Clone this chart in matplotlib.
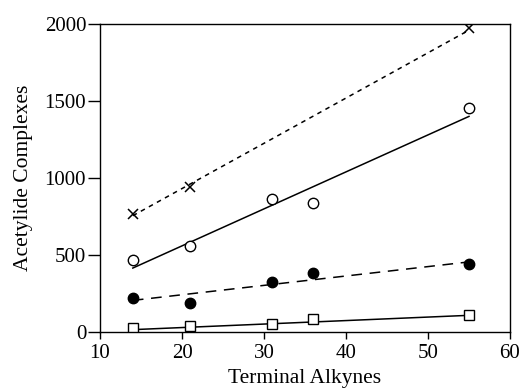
import matplotlib
matplotlib.use("Agg")
import matplotlib.pyplot as plt

x = [14, 21, 31, 36, 55]
cross_x = [14, 21, 55]
cross_y = [766, 941, 1974]
open_y = [468, 558, 864, 838, 1455]
filled_y = [223, 188, 325, 383, 441]
square_y = [26, 39, 52, 84, 110]

fit_x = [14, 55]
cross_fit = [755, 1960]
open_fit = [415, 1400]
filled_fit = [205, 455]
square_fit = [15, 108]

xticks = [10, 20, 30, 40, 50, 60]
yticks = [0, 500, 1000, 1500, 2000]

plt.rcParams['font.family'] = ['Liberation Serif', 'DejaVu Serif']
fig = plt.figure(figsize=(5.22, 3.91), dpi=100)
ax = fig.add_axes([0.1916, 0.151, 0.977 - 0.1916, 0.9386 - 0.151])

ax.plot(fit_x, cross_fit, color='black', lw=1.1, linestyle=(0, (3, 3)))
ax.plot(fit_x, open_fit, color='black', lw=1.1)
ax.plot(fit_x, filled_fit, color='black', lw=1.1, linestyle=(0, (7, 5)))
ax.plot(fit_x, square_fit, color='black', lw=1.1)

ax.plot(cross_x, cross_y, 'x', color='black', ms=6.5, mew=1.1)
ax.plot(x, open_y, 'o', mfc='white', mec='black', ms=7.5, mew=1.0)
ax.plot(x, filled_y, 'o', mfc='black', mec='black', ms=7.5)
ax.plot(x, square_y, 's', mfc='white', mec='black', ms=6.5, mew=1.0)

ax.set_xlim(10, 60)
ax.set_ylim(0, 2000)
ax.set_xticks(xticks)
ax.set_yticks(yticks)
ax.tick_params(direction='out', width=1, labelsize=15)
ax.tick_params(axis='x', length=5, pad=4)
ax.tick_params(axis='y', length=9, pad=1)
ax.tick_params(top=False, right=False)
for s in ax.spines.values():
    s.set_linewidth(1)
ax.set_xlabel('Terminal Alkynes', fontsize=15.5, labelpad=4)
ax.set_ylabel('Acetylide Complexes', fontsize=15.5, labelpad=8)

fig.savefig('out.png', dpi=100)
